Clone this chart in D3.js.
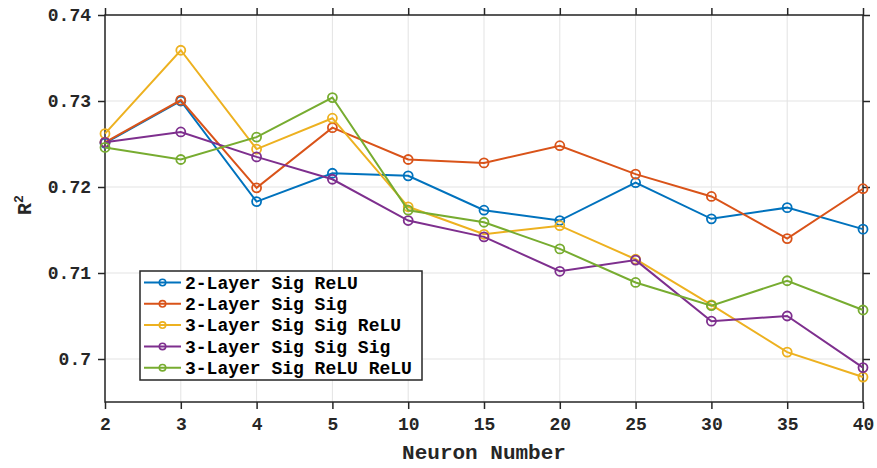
<!DOCTYPE html>
<html>
<head>
<meta charset="utf-8">
<script src="https://cdn.jsdelivr.net/npm/d3@7"></script>
<style>
  body { margin: 0; background: #fff; }
  text { font-family: "Liberation Mono", "Courier New", monospace; font-weight: bold; fill: #262626; }
</style>
</head>
<body>
<div id="chart"></div>
<script>
// neuron counts (categorical x axis)
const neurons = ["2", "3", "4", "5", "10", "15", "20", "25", "30", "35", "40"];

// R^2 values per network
const sigRelu2 = [0.7251, 0.7300, 0.7183, 0.7216, 0.7213, 0.7173, 0.7161, 0.7205, 0.7163, 0.7176, 0.7151];
const sigSig2 = [0.7252, 0.7301, 0.7199, 0.7269, 0.7232, 0.7228, 0.7248, 0.7215, 0.7189, 0.7140, 0.7198];
const sigSigRelu3 = [0.7262, 0.7359, 0.7244, 0.7280, 0.7177, 0.7145, 0.7155, 0.7116, 0.7063, 0.7008, 0.6979];
const sigSigSig3 = [0.7252, 0.7264, 0.7235, 0.7209, 0.7161, 0.7142, 0.7102, 0.7115, 0.7044, 0.7050, 0.6990];
const sigReluRelu3 = [0.7246, 0.7232, 0.7258, 0.7304, 0.7173, 0.7159, 0.7128, 0.7089, 0.7062, 0.7091, 0.7057];

const seriesNames = ["2-Layer Sig ReLU", "2-Layer Sig Sig", "3-Layer Sig Sig ReLU", "3-Layer Sig Sig Sig", "3-Layer Sig ReLU ReLU"];
const seriesValues = [sigRelu2, sigSig2, sigSigRelu3, sigSigSig3, sigReluRelu3];
const seriesColors = ["#0072BD", "#D95319", "#EDB120", "#7E2F8E", "#77AC30"];

const yTicks = [0.70, 0.71, 0.72, 0.73, 0.74];
const yTickLabels = ["0.7", "0.71", "0.72", "0.73", "0.74"];

const width = 877, height = 468;
const margin = { top: 15, right: 14, bottom: 66, left: 105 };
const axisColor = "#262626";

const svg = d3.select("#chart").append("svg")
    .attr("width", width)
    .attr("height", height);

const x = d3.scalePoint()
    .domain(neurons)
    .range([margin.left, width - margin.right]);

const y = d3.scaleLinear()
    .domain([0.695, 0.74])
    .range([height - margin.bottom, margin.top]);

// grid
svg.append("g")
    .selectAll("line.vgrid")
    .data(neurons)
    .enter().append("line")
    .attr("x1", d => x(d)).attr("x2", d => x(d))
    .attr("y1", margin.top).attr("y2", height - margin.bottom)
    .style("stroke", "#e3e3e3").style("stroke-width", 1);

svg.append("g")
    .selectAll("line.hgrid")
    .data(yTicks)
    .enter().append("line")
    .attr("x1", margin.left).attr("x2", width - margin.right)
    .attr("y1", d => y(d)).attr("y2", d => y(d))
    .style("stroke", "#e3e3e3").style("stroke-width", 1);

// axes (box with outward ticks on all four sides)
const tickLen = 7;
function styleAxis(g) {
    g.select(".domain").remove();
    g.selectAll(".tick line").style("stroke", axisColor).style("stroke-width", 1.5);
    g.selectAll(".tick text")
        .style("font-size", "18px")
        .style("font-family", "'Liberation Mono', monospace")
        .style("font-weight", "bold")
        .style("fill", axisColor);
}

svg.append("g")
    .attr("transform", `translate(0,${height - margin.bottom})`)
    .call(d3.axisBottom(x).tickSize(tickLen).tickPadding(8))
    .call(styleAxis);

svg.append("g")
    .attr("transform", `translate(0,${margin.top})`)
    .call(d3.axisTop(x).tickSize(tickLen).tickFormat(""))
    .call(styleAxis);

svg.append("g")
    .attr("transform", `translate(${margin.left},0)`)
    .call(d3.axisLeft(y).tickValues(yTicks).tickSize(tickLen).tickPadding(7)
        .tickFormat((d, i) => yTickLabels[i]))
    .call(styleAxis);

svg.append("g")
    .attr("transform", `translate(${width - margin.right},0)`)
    .call(d3.axisRight(y).tickValues(yTicks).tickSize(tickLen).tickFormat(""))
    .call(styleAxis);

svg.append("rect")
    .attr("x", margin.left).attr("y", margin.top)
    .attr("width", width - margin.left - margin.right)
    .attr("height", height - margin.top - margin.bottom)
    .style("fill", "none").style("stroke", axisColor).style("stroke-width", 1.5);

// lines + markers
const line = d3.line()
    .x((d, i) => x(neurons[i]))
    .y(d => y(d));

seriesValues.forEach((vals, s) => {
    svg.append("path")
        .datum(vals)
        .attr("d", line)
        .style("fill", "none")
        .style("stroke", seriesColors[s])
        .style("stroke-width", 2);

    svg.append("g")
        .selectAll("circle")
        .data(vals)
        .enter().append("circle")
        .attr("cx", (d, i) => x(neurons[i]))
        .attr("cy", d => y(d))
        .attr("r", 4.5)
        .style("fill", "none")
        .style("stroke", seriesColors[s])
        .style("stroke-width", 1.8);
});

// axis labels
svg.append("text")
    .attr("x", (margin.left + width - margin.right) / 2)
    .attr("y", 459)
    .attr("text-anchor", "middle")
    .style("font-size", "21px")
    .text("Neuron Number");

svg.append("text")
    .attr("transform", "translate(31,205) rotate(-90)")
    .attr("text-anchor", "middle")
    .style("font-size", "20px")
    .text("R")
    .append("tspan")
    .attr("dy", -8)
    .style("font-size", "13px")
    .text("2");

// legend
const legend = svg.append("g");
legend.append("rect")
    .attr("x", 140).attr("y", 271)
    .attr("width", 282).attr("height", 109)
    .style("fill", "#fff")
    .style("stroke", axisColor)
    .style("stroke-width", 1.5);

seriesNames.forEach((name, s) => {
    const ly = 282.5 + s * 21.3;
    legend.append("line")
        .attr("x1", 144).attr("x2", 181)
        .attr("y1", ly).attr("y2", ly)
        .style("stroke", seriesColors[s]).style("stroke-width", 2);
    legend.append("circle")
        .attr("cx", 162.5).attr("cy", ly).attr("r", 3.2)
        .style("fill", "none")
        .style("stroke", seriesColors[s]).style("stroke-width", 1.6);
    legend.append("text")
        .attr("x", 185).attr("y", ly)
        .attr("dy", "0.35em")
        .style("font-size", "18px")
        .style("fill", "#000")
        .text(name);
});
</script>
</body>
</html>
